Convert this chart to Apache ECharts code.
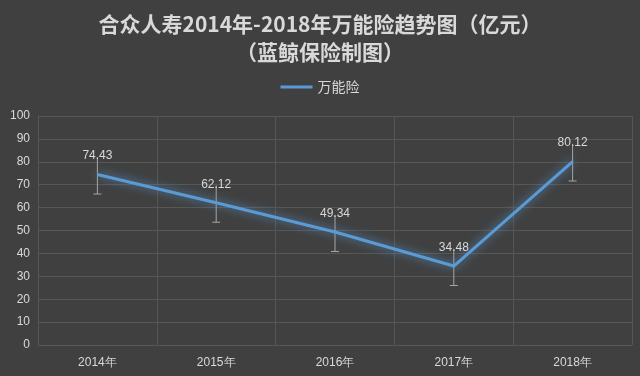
<!DOCTYPE html>
<html>
<head>
<meta charset="utf-8">
<script src="https://cdn.jsdelivr.net/npm/echarts@6/dist/echarts.min.js"></script>
<style>
html, body { margin: 0; padding: 0; background: #404040; }
#main { width: 640px; height: 376px; }
</style>
</head>
<body>
<div id="main"></div>
<script>
// data
var years = ['2014年', '2015年', '2016年', '2017年', '2018年'];
var universal = [74.43, 62.12, 49.34, 34.48, 80.12];
var errLow = [8.5, 8.5, 8.5, 8.5, 8.5];
var errHigh = [7.5, 7.5, 7.5, 7.5, 7.5];

var textColor = '#d9d9d9';
var chart = echarts.init(document.getElementById('main'));

var option = {
    backgroundColor: '#404040',
    title: {
        text: '合众人寿2014年-2018年万能险趋势图（亿元）\n（蓝鲸保险制图）',
        left: 'center',
        top: 5,
        textStyle: {
            color: textColor,
            fontSize: 21,
            fontWeight: 'bold',
            lineHeight: 28,
            fontFamily: 'Noto Sans CJK SC'
        }
    },
    legend: {
        top: 75,
        left: 'center',
        itemWidth: 32,
        itemHeight: 3,
        itemGap: 4,
        icon: 'rect',
        textStyle: { color: textColor, fontSize: 14, fontFamily: 'Noto Sans CJK SC' },
        data: ['万能险']
    },
    grid: { left: 38, right: 8, top: 116, bottom: 31 },
    xAxis: {
        type: 'category',
        data: years,
        boundaryGap: true,
        axisLine: { show: false },
        axisTick: { show: false },
        axisLabel: { color: textColor, fontSize: 12, margin: 12 },
        splitLine: { show: true, lineStyle: { color: '#555555', width: 1 } }
    },
    yAxis: {
        type: 'value',
        min: 0,
        max: 100,
        interval: 10,
        axisLine: { show: false },
        axisTick: { show: false },
        axisLabel: { color: textColor, fontSize: 12, margin: 8 },
        splitLine: { lineStyle: { color: '#575757', width: 1 } }
    },
    series: [
        {
            name: '万能险',
            type: 'line',
            data: universal,
            symbol: 'circle',
            symbolSize: 1,
            showSymbol: true,
            itemStyle: { color: '#5b9bd5' },
            lineStyle: {
                color: '#5b9bd5',
                width: 3,
                shadowColor: 'rgba(91,155,213,0.9)',
                shadowBlur: 10
            },
            label: {
                show: true,
                position: 'top',
                distance: 12,
                color: textColor,
                fontSize: 12
            },
            z: 3
        },
        {
            name: 'error',
            type: 'custom',
            data: universal.map(function (v, i) { return [i, v - errLow[i], v + errHigh[i]]; }),
            renderItem: function (params, api) {
                var lo = api.coord([api.value(0), api.value(1)]);
                var hi = api.coord([api.value(0), api.value(2)]);
                var style = { stroke: '#a6a6a6', lineWidth: 1 };
                return {
                    type: 'group',
                    children: [
                        { type: 'line', shape: { x1: hi[0], y1: hi[1], x2: lo[0], y2: lo[1] }, style: style },
                        { type: 'line', shape: { x1: lo[0] - 4, y1: lo[1], x2: lo[0] + 4, y2: lo[1] }, style: style }
                    ]
                };
            },
            silent: true,
            z: 2
        }
    ]
};
chart.setOption(option);
</script>
</body>
</html>
